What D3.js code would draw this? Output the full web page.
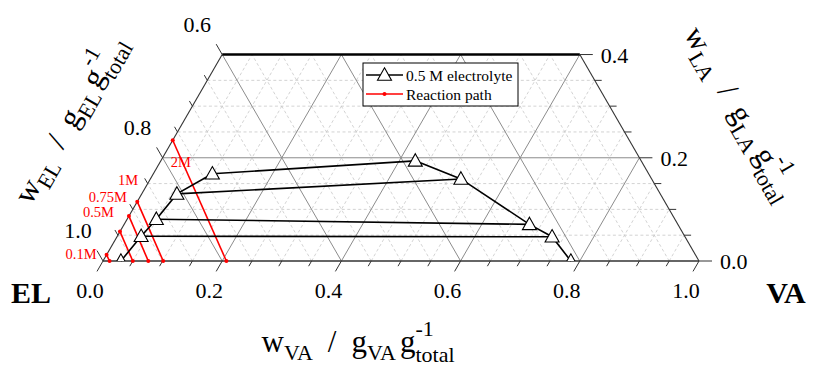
<!DOCTYPE html>
<html>
<head>
<meta charset="utf-8">
<script src="https://cdn.jsdelivr.net/npm/d3@7"></script>
<style>
  html, body { margin: 0; padding: 0; background: #fff; }
  svg { display: block; }
  svg text { font-family: "Liberation Serif", "Times New Roman", serif; }
</style>
</head>
<body>
<svg id="chart" width="813" height="367"></svg>
<script>
// ---------------- DATA ----------------
// Binodal (0.5 M electrolyte) – left (EL-rich) branch, mass fractions
const leftVA  = [0.030, 0.040, 0.049, 0.059, 0.099];
const leftLA  = [0.000, 0.048, 0.081, 0.130, 0.169];
// right (VA-rich) branch
const rightVA = [0.785, 0.730, 0.680, 0.521, 0.427];
const rightLA = [0.000, 0.047, 0.071, 0.159, 0.194];
// tie lines connect left[i] with right[i]
const tieIdx = [1, 2, 3, 4];

// Reaction paths: from EL–LA edge (VA = 0) to EL–VA edge (LA = 0)
const reactionNames   = ["0.1M", "0.5M", "0.75M", "1M", "2M"];
const reactionStartLA = [0.012, 0.057, 0.087, 0.115, 0.234];
const reactionEndVA   = [0.011, 0.050, 0.076, 0.101, 0.207];

// Tick labels
const vaTickLabels = ["0.0", "0.2", "0.4", "0.6", "0.8", "1.0"];
const vaTickValues = [0, 0.2, 0.4, 0.6, 0.8, 1.0];
const elTickLabels = ["1.0", "0.8", "0.6"];
const elTickLA     = [0, 0.2, 0.4];
const laTickLabels = ["0.0", "0.2", "0.4"];
const laTickValues = [0, 0.2, 0.4];
const laMax = 0.4;

const legendNames = ["0.5 M electrolyte", "Reaction path"];

// ---------------- LAYOUT ----------------
const FONT = "'Liberation Serif', 'Times New Roman', serif";
const svg = d3.select("#chart").attr("font-family", FONT);
const x0 = 103, W = 596, y0 = 261;
const H = W * Math.sqrt(3) / 2;
const xs = d3.scaleLinear().domain([0, 1]).range([x0, x0 + W]);
const ys = d3.scaleLinear().domain([0, 1]).range([y0, y0 - H]);
const P = (va, la) => [xs(va + la / 2), ys(la)];

// clip: truncated triangle
const poly = [P(0, 0), P(1, 0), P(1 - laMax, laMax), P(0, laMax)];
svg.append("defs").append("clipPath").attr("id", "tri")
  .append("path").attr("d", "M" + poly.join("L") + "Z");

const grid = svg.append("g");
const steps = d3.range(0.05, 1.0001, 0.05).map(v => +v.toFixed(2));
function isMajor(v) { return Math.abs(v / 0.2 - Math.round(v / 0.2)) < 1e-6; }

[false, true].forEach(major => {
  const sel = steps.filter(v => isMajor(v) === major && v < 1 - 1e-9);
  sel.filter(v => v < laMax - 1e-9).forEach(la => {
    grid.append("line")
      .attr("x1", P(0, la)[0]).attr("y1", P(0, la)[1])
      .attr("x2", P(1 - la, la)[0]).attr("y2", P(1 - la, la)[1])
      .attr("class", major ? "maj" : "min");
  });
  sel.forEach(va => {
    const top = Math.min(laMax, 1 - va);
    grid.append("line")
      .attr("x1", P(va, 0)[0]).attr("y1", P(va, 0)[1])
      .attr("x2", P(va, top)[0]).attr("y2", P(va, top)[1])
      .attr("class", major ? "maj" : "min");
  });
  sel.forEach(el => {
    const top = Math.min(laMax, 1 - el);
    grid.append("line")
      .attr("x1", P(1 - el, 0)[0]).attr("y1", P(1 - el, 0)[1])
      .attr("x2", P(1 - el - top, top)[0]).attr("y2", P(1 - el - top, top)[1])
      .attr("class", major ? "maj" : "min");
  });
});
grid.selectAll("line.min").attr("stroke", "#c8c8c8").attr("stroke-width", 0.8).attr("stroke-dasharray", "3,2.5");
grid.selectAll("line.maj").attr("stroke", "#8c8c8c").attr("stroke-width", 1);

// edges
const edges = svg.append("g").attr("fill", "none");
edges.append("line").attr("x1", P(0,0)[0]).attr("y1", P(0,0)[1]).attr("x2", P(1,0)[0]).attr("y2", P(1,0)[1])
  .attr("stroke", "#333").attr("stroke-width", 1.3);
edges.append("line").attr("x1", P(0,0)[0]).attr("y1", P(0,0)[1]).attr("x2", P(0,laMax)[0]).attr("y2", P(0,laMax)[1])
  .attr("stroke", "#333").attr("stroke-width", 1.1);
edges.append("line").attr("x1", P(1,0)[0]).attr("y1", P(1,0)[1]).attr("x2", P(1-laMax,laMax)[0]).attr("y2", P(1-laMax,laMax)[1])
  .attr("stroke", "#333").attr("stroke-width", 1.1);
edges.append("line").attr("x1", P(0,laMax)[0]).attr("y1", P(0,laMax)[1]).attr("x2", P(1-laMax,laMax)[0]).attr("y2", P(1-laMax,laMax)[1])
  .attr("stroke", "#000").attr("stroke-width", 2.4);

// ticks
const ticks = svg.append("g").attr("stroke", "#333").attr("stroke-width", 1);
const c60 = 0.5, s60 = Math.sqrt(3) / 2;
d3.range(0, 1.0001, 0.05).map(v => +v.toFixed(2)).forEach(v => {
  const L = isMajor(v) ? 12 : 6;
  const [px, py] = P(v, 0);
  ticks.append("line").attr("x1", px).attr("y1", py).attr("x2", px - c60 * L).attr("y2", py + s60 * L);
});
d3.range(0, laMax + 0.0001, 0.05).map(v => +v.toFixed(2)).forEach(la => {
  const L = isMajor(la) ? 12 : 6;
  let [px, py] = P(0, la);
  ticks.append("line").attr("x1", px).attr("y1", py).attr("x2", px - c60 * L).attr("y2", py - s60 * L);
  [px, py] = P(1 - la, la);
  ticks.append("line").attr("x1", px).attr("y1", py).attr("x2", px + (isMajor(la) ? 13 : 7)).attr("y2", py);
});

// tick labels
const tl = svg.append("g").attr("font-size", 22).attr("fill", "#000");
vaTickValues.forEach((v, i) => {
  const [px, py] = P(v, 0);
  tl.append("text").attr("font-family", FONT).attr("x", px - 13).attr("y", py + 37).attr("text-anchor", "middle").text(vaTickLabels[i]);
});
elTickLA.forEach((la, i) => {
  const [px, py] = P(0, la);
  tl.append("text").attr("font-family", FONT).attr("x", px - 25).attr("y", py - 23).attr("text-anchor", "middle").text(elTickLabels[i]);
});
laTickValues.forEach((la, i) => {
  const [px, py] = P(1 - la, la);
  tl.append("text").attr("font-family", FONT).attr("x", px + 21).attr("y", py + 8).attr("text-anchor", "start").text(laTickLabels[i]);
});

// corner labels
svg.append("text").attr("font-family", FONT).attr("x", 31).attr("y", 303).attr("text-anchor", "middle")
  .attr("font-size", 30).attr("font-weight", "bold").text("EL");
svg.append("text").attr("font-family", FONT).attr("x", 786).attr("y", 303).attr("text-anchor", "middle")
  .attr("font-size", 30).attr("font-weight", "bold").text("VA");

// ---------------- DATA MARKS ----------------
const plot = svg.append("g");
const lineGen = d3.line();

// reaction paths (red)
const red = plot.append("g");
const redLabelOffset = [[-10, 4], [-6, -15], [-2, -14], [1, -17], [-2, 27]];
reactionNames.forEach((name, i) => {
  const a = P(0, reactionStartLA[i]);
  const b = P(reactionEndVA[i], 0);
  red.append("path").attr("d", lineGen([a, b])).attr("stroke", "#ff0000").attr("stroke-width", 1.6).attr("fill", "none");
  red.append("circle").attr("cx", a[0]).attr("cy", a[1]).attr("r", 2).attr("fill", "#ff0000");
  red.append("circle").attr("cx", b[0]).attr("cy", b[1]).attr("r", 2).attr("fill", "#ff0000");
  const o = redLabelOffset[i];
  red.append("text").attr("font-family", FONT).attr("x", a[0] + o[0]).attr("y", a[1] + o[1])
    .attr("text-anchor", i === 4 ? "start" : "end")
    .attr("font-size", 14.5).attr("fill", "#ff0000").text(name);
});

// binodal + tie lines (black)
const blk = plot.append("g").attr("stroke", "#000").attr("stroke-width", 1.6).attr("fill", "none");
const leftPts = leftVA.map((v, i) => P(v, leftLA[i]));
const rightPts = rightVA.map((v, i) => P(v, rightLA[i]));
blk.append("path").attr("d", lineGen(leftPts));
blk.append("path").attr("d", lineGen(rightPts));
tieIdx.forEach(i => blk.append("path").attr("d", lineGen([leftPts[i], rightPts[i]])));

const triPath = "M0,-7.2L7,5.3L-7,5.3Z";
const mk = plot.append("g").attr("clip-path", "url(#tri)");
leftPts.concat(rightPts).forEach(p => {
  mk.append("path").attr("d", triPath).attr("transform", `translate(${p[0]},${p[1]})`)
    .attr("fill", "#fff").attr("stroke", "#000").attr("stroke-width", 1.1);
});

// ---------------- LEGEND ----------------
const lg = svg.append("g");
lg.append("rect").attr("x", 363).attr("y", 63).attr("width", 155).attr("height", 43)
  .attr("fill", "#fff").attr("stroke", "#000").attr("stroke-width", 1);
lg.append("line").attr("x1", 366).attr("x2", 403).attr("y1", 75).attr("y2", 75).attr("stroke", "#000").attr("stroke-width", 1.6);
lg.append("path").attr("d", triPath).attr("transform", "translate(384.5,75)").attr("fill", "#fff").attr("stroke", "#000").attr("stroke-width", 1.1);
lg.append("text").attr("font-family", FONT).attr("x", 406).attr("y", 80.5).attr("font-size", 15.5).text(legendNames[0]);
lg.append("line").attr("x1", 366).attr("x2", 403).attr("y1", 94).attr("y2", 94).attr("stroke", "#ff0000").attr("stroke-width", 1.6);
lg.append("circle").attr("cx", 384.5).attr("cy", 94).attr("r", 2).attr("fill", "#ff0000");
lg.append("text").attr("font-family", FONT).attr("x", 406).attr("y", 99.5).attr("font-size", 15.5).text(legendNames[1]);

// ---------------- AXIS TITLES ----------------
function title(cx, cy, angle, sym) {
  const outer = svg.append("g").attr("transform", `translate(${cx},${cy}) rotate(${angle})`);
  const g = outer.append("g");
  const F = 31, S = 22;
  let x = 0;
  const put = (t, size, dy) => {
    const el = g.append("text").attr("font-family", FONT).attr("x", x).attr("y", dy).attr("font-size", size).text(t);
    return el.node().getComputedTextLength();
  };
  x += put("w", F, 0);
  x += put(sym, S, 8);
  x += 15;
  x += put("/", F, 0);
  x += 15;
  x += put("g", F, 0);
  x += put(sym, S, 8);
  x += 4;
  x += put("g", F, 0);
  const w1 = put("-1", S, -16);
  const w2 = put("total", S, 10);
  x += Math.max(w1, w2);
  g.attr("transform", `translate(${-x / 2},0)`);
}
title(358, 352, 0, "VA");
title(78, 124, -60, "EL");
title(732, 118, 60, "LA");
</script>
</body>
</html>
